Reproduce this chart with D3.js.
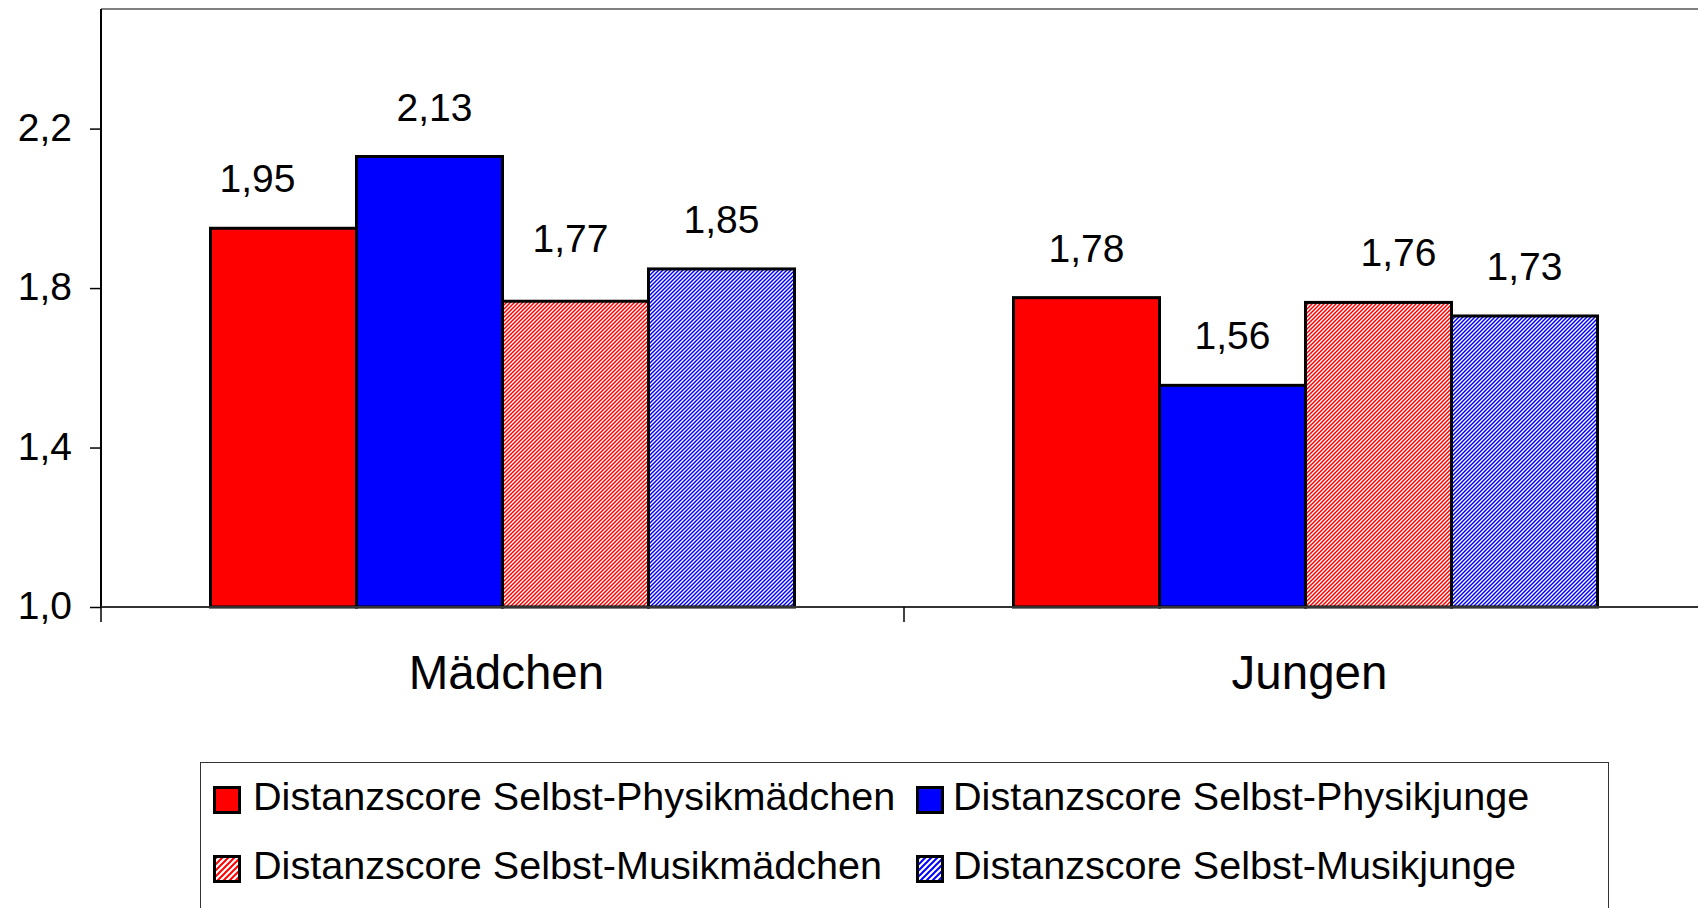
<!DOCTYPE html>
<html>
<head>
<meta charset="utf-8">
<script src="https://cdn.jsdelivr.net/npm/d3@7"></script>
<style>
  html, body { margin: 0; padding: 0; background: #fff; }
  svg { display: block; font-family: "Liberation Sans", Arial, sans-serif; }
</style>
</head>
<body>
<svg id="chart"></svg>
<script>
// Distanzscores, grouped bars with hatched "Musik" series

const width = 1698;
const height = 908;

const categories = ["Mädchen", "Jungen"];
const seriesNames = [
  "Distanzscore Selbst-Physikmädchen",
  "Distanzscore Selbst-Physikjunge",
  "Distanzscore Selbst-Musikmädchen",
  "Distanzscore Selbst-Musikjunge",
];
const physikMaedchen = [1.95, 1.776];
const physikJunge = [2.13, 1.556];
const musikMaedchen = [1.767, 1.764];
const musikJunge = [1.848, 1.73];
const yTicks = [1.0, 1.4, 1.8, 2.2];

const seriesValues = [physikMaedchen, physikJunge, musikMaedchen, musikJunge];
const fills = ["#ff0000", "#0000ff", "url(#hatchRed)", "url(#hatchBlue)"];
const legendFills = ["#ff0000", "#0000ff", "url(#hatchRedL)", "url(#hatchBlueL)"];

// a few data labels were nudged by hand in the original
const labelNudge = {
  "0-0": [-26, 0],
  "0-1": [5, 0],
  "0-2": [-5, -13],
  "1-2": [20, 0],
};

const plotLeft = 101;
const plotRight = 1707;
const plotTop = 9;
const plotBottom = 607;

const svg = d3.select("#chart").attr("width", width).attr("height", height);

// hatch patterns
const defs = svg.append("defs");
const makeHatch = (id, color, size, sw) => {
  const p = defs
    .append("pattern")
    .attr("id", id)
    .attr("patternUnits", "userSpaceOnUse")
    .attr("width", size)
    .attr("height", size);
  p.append("rect").attr("width", size).attr("height", size).attr("fill", "#fff");
  p.append("path")
    .attr("d", `M${-size / 2},${size / 2} L${size / 2},${-size / 2} M0,${size} L${size},0 M${size / 2},${size * 1.5} L${size * 1.5},${size / 2}`)
    .attr("stroke", color)
    .attr("stroke-width", sw);
};
makeHatch("hatchRed", "#ff0000", 4, 1.5);
makeHatch("hatchBlue", "#0000ff", 4, 1.5);
makeHatch("hatchRedL", "#ff0000", 6, 2);
makeHatch("hatchBlueL", "#0000ff", 6, 2);

const y = d3.scaleLinear().domain([1.0, 2.5]).range([plotBottom, plotTop]);

const x0 = d3.scaleBand().domain(categories).range([plotLeft, plotRight]).padding(0);

const x1 = d3
  .scaleBand()
  .domain(d3.range(seriesNames.length))
  .range([0, x0.bandwidth()])
  .paddingInner(0)
  .paddingOuter(0.75);

const fmt = (v, n) => v.toFixed(n).replace(".", ",");

// top border of plot area
svg
  .append("line")
  .attr("x1", plotLeft)
  .attr("x2", plotRight)
  .attr("y1", y(2.5))
  .attr("y2", y(2.5))
  .attr("stroke", "#808080")
  .attr("stroke-width", 2);

// bars
const groups = svg
  .selectAll(".group")
  .data(categories)
  .enter()
  .append("g")
  .attr("class", "group")
  .attr("transform", (d) => "translate(" + x0(d) + ",0)");

const cells = (d, ci) => seriesValues.map((vals, si) => ({ ci: ci, si: si, v: vals[ci] }));

groups
  .selectAll("rect")
  .data(cells)
  .enter()
  .append("rect")
  .attr("x", (d) => x1(d.si))
  .attr("y", (d) => y(d.v))
  .attr("width", x1.bandwidth())
  .attr("height", (d) => y(1.0) - y(d.v))
  .attr("fill", (d) => fills[d.si])
  .attr("stroke", "#000")
  .attr("stroke-width", 3);

const nudge = (d) => labelNudge[d.ci + "-" + d.si] || [0, 0];

groups
  .selectAll(".val")
  .data(cells)
  .enter()
  .append("text")
  .attr("class", "val")
  .attr("x", (d) => x1(d.si) + x1.bandwidth() / 2 + nudge(d)[0])
  .attr("y", (d) => y(d.v) - 36 + nudge(d)[1])
  .attr("text-anchor", "middle")
  .attr("font-size", 39)
  .attr("fill", "#000")
  .text((d) => fmt(d.v, 2));

// y axis
const yAxis = d3
  .axisLeft(y)
  .tickValues(yTicks)
  .tickSize(11)
  .tickPadding(18)
  .tickFormat((d) => fmt(d, 1));

const gy = svg
  .append("g")
  .attr("transform", "translate(" + plotLeft + ",0)")
  .call(yAxis);
gy.select(".domain").remove();
gy.selectAll(".tick line").attr("stroke", "#000").attr("stroke-width", 1.5);
gy.selectAll(".tick text")
  .attr("font-size", 39)
  .attr("fill", "#000")
  .attr("font-family", "'Liberation Sans', Arial, sans-serif")
  .attr("dy", "0.3em");

svg
  .append("line")
  .attr("x1", plotLeft)
  .attr("x2", plotLeft)
  .attr("y1", y(2.5))
  .attr("y2", plotBottom)
  .attr("stroke", "#000")
  .attr("stroke-width", 2);

// x axis
const xAxis = d3.axisBottom(x0).tickSize(0).tickPadding(82);
const gx = svg
  .append("g")
  .attr("transform", "translate(4," + plotBottom + ")")
  .call(xAxis);
gx.select(".domain").remove();
gx.selectAll(".tick text")
  .attr("font-size", 47.5)
  .attr("fill", "#000")
  .attr("font-family", "'Liberation Sans', Arial, sans-serif")
  .attr("dy", 0);

svg
  .append("line")
  .attr("x1", plotLeft)
  .attr("x2", plotRight)
  .attr("y1", plotBottom)
  .attr("y2", plotBottom)
  .attr("stroke", "#333")
  .attr("stroke-width", 2);

const bounds = categories.map((c) => x0(c)).concat([x0(categories[categories.length - 1]) + x0.bandwidth()]);
svg
  .selectAll(".xtick")
  .data(bounds)
  .enter()
  .append("line")
  .attr("class", "xtick")
  .attr("x1", (d) => d)
  .attr("x2", (d) => d)
  .attr("y1", plotBottom)
  .attr("y2", plotBottom + 15)
  .attr("stroke", "#000")
  .attr("stroke-width", 1.5);

// legend
const legend = svg.append("g").attr("id", "legend");
legend
  .append("rect")
  .attr("x", 200.5)
  .attr("y", 762.5)
  .attr("width", 1408)
  .attr("height", 170)
  .attr("fill", "#fff")
  .attr("stroke", "#333")
  .attr("stroke-width", 1);

const legendPos = [
  { x: 213, y: 786 },
  { x: 916, y: 786 },
  { x: 213, y: 855 },
  { x: 916, y: 855 },
];

const items = legend
  .selectAll(".item")
  .data(seriesNames)
  .enter()
  .append("g")
  .attr("class", "item")
  .attr("transform", (d, i) => "translate(" + legendPos[i].x + "," + legendPos[i].y + ")");

items
  .append("rect")
  .attr("x", 1.5)
  .attr("y", 1.5)
  .attr("width", 25)
  .attr("height", 25)
  .attr("fill", (d, i) => legendFills[i])
  .attr("stroke", "#000")
  .attr("stroke-width", 3);

items
  .append("text")
  .attr("x", (d, i) => (i % 2 === 0 ? 40 : 37))
  .attr("y", 24)
  .attr("font-size", 39.6)
  .attr("fill", "#000")
  .text((d) => d);
</script>
</body>
</html>
